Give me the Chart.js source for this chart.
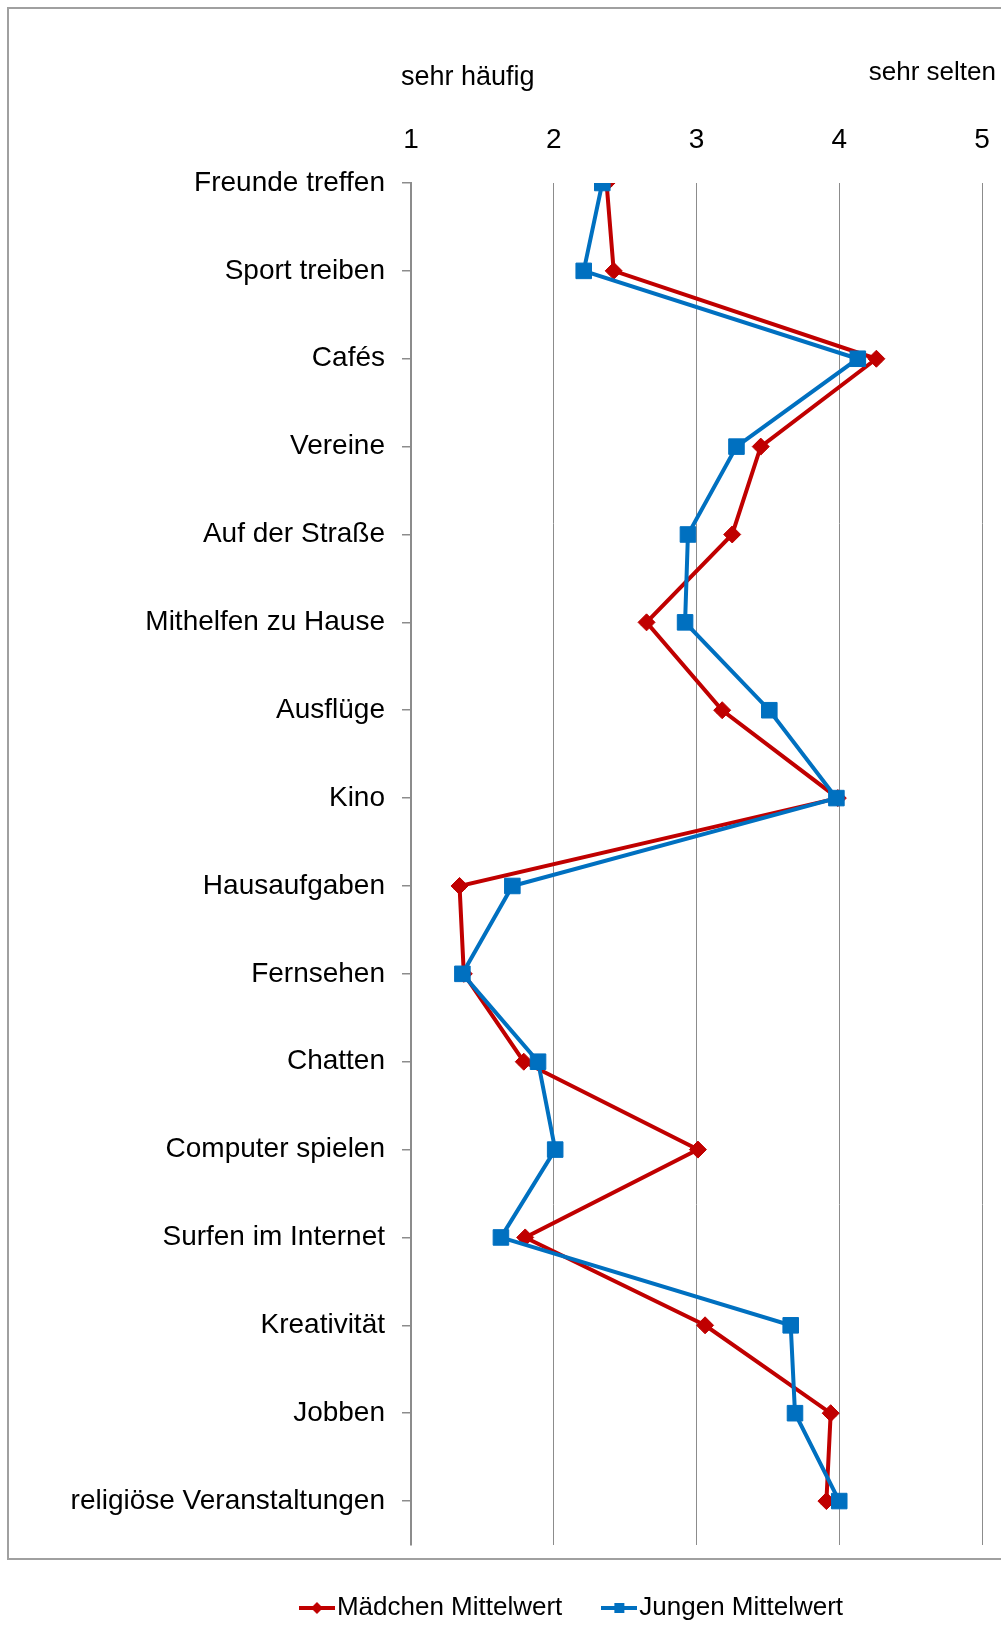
<!DOCTYPE html>
<html>
<head>
<meta charset="utf-8">
<script src="https://cdn.jsdelivr.net/npm/chart.js@4.4.0/dist/chart.umd.min.js"></script>
<style>
  html, body { margin: 0; padding: 0; background: #fff; }
  #wrap { position: relative; width: 1001px; height: 1626px; }
</style>
</head>
<body>
<div id="wrap"><canvas id="c"></canvas></div>
<script>
const categories = ['Freunde treffen', 'Sport treiben', 'Cafés', 'Vereine', 'Auf der Straße',
  'Mithelfen zu Hause', 'Ausflüge', 'Kino', 'Hausaufgaben', 'Fernsehen', 'Chatten',
  'Computer spielen', 'Surfen im Internet', 'Kreativität', 'Jobben', 'religiöse Veranstaltungen'];
const maedchen = [2.37, 2.42, 4.26, 3.45, 3.25, 2.65, 3.18, 3.99, 1.34, 1.37, 1.79, 3.01, 1.80, 3.06, 3.94, 3.91];
const jungen   = [2.34, 2.21, 4.13, 3.28, 2.94, 2.92, 3.51, 3.98, 1.71, 1.36, 1.89, 2.01, 1.63, 3.66, 3.69, 4.00];
const xTicks = [1, 2, 3, 4, 5];
const seriesNames = ['Mädchen Mittelwert', 'Jungen Mittelwert'];
const topLeftText = 'sehr häufig';
const topRightText = 'sehr selten';

const RED = '#C00000', BLUE = '#0070C0', GREEN = '#9BBB59', GRID = '#8c8c8c';
const FONT = "'Liberation Sans', Arial, sans-serif";

function pts(arr) { return arr.map((v, i) => ({ x: v, y: i + 1 })); }

function legendIcon(color, kind) {
  const c = document.createElement('canvas');
  c.width = 36; c.height = 18;
  const g = c.getContext('2d');
  g.strokeStyle = color; g.lineWidth = 4;
  g.beginPath(); g.moveTo(0, 9); g.lineTo(36, 9); g.stroke();
  g.fillStyle = color;
  g.beginPath();
  if (kind === 'diamond') {
    g.moveTo(18, 3); g.lineTo(24, 9); g.lineTo(18, 15); g.lineTo(12, 9); g.closePath();
  } else {
    g.rect(13, 4, 10, 10);
  }
  g.fill();
  return c;
}
const redIcon = legendIcon(RED, 'diamond');
const blueIcon = legendIcon(BLUE, 'square');

const decor = {
  id: 'decor',
  afterLayout(chart) {
    const lg = chart.legend;
    if (lg) { lg.left = 171; lg.width = lg.right - lg.left; }
  },
  beforeDraw(chart) {
    const ctx = chart.ctx;
    ctx.save();
    ctx.fillStyle = '#fff';
    ctx.fillRect(0, 0, chart.width, chart.height);
    ctx.strokeStyle = '#a0a0a0';
    ctx.lineWidth = 2;
    ctx.strokeRect(8, 8, 1100, 1551);
    ctx.restore();
  },
  afterDraw(chart) {
    const ctx = chart.ctx;
    ctx.save();
    ctx.fillStyle = '#000';
    ctx.textBaseline = 'middle';
    ctx.font = '27px ' + FONT;
    ctx.textAlign = 'left';
    ctx.fillText(topLeftText, 401, 78);
    ctx.font = '26px ' + FONT;
    ctx.textAlign = 'right';
    ctx.fillText(topRightText, 996, 73);
    ctx.restore();
  }
};

new Chart(document.getElementById('c'), {
  type: 'line',
  data: {
    datasets: [
      {
        label: seriesNames[0], data: pts(maedchen), order: 1,
        borderColor: RED, backgroundColor: RED, borderWidth: 4,
        pointStyle: 'rectRot', pointRadius: 8.5, pointBorderWidth: 1,
        pointBackgroundColor: RED, pointBorderColor: RED, tension: 0
      },
      {
        label: seriesNames[1], data: pts(jungen), order: 0,
        borderColor: BLUE, backgroundColor: BLUE, borderWidth: 4,
        pointStyle: 'rect', pointRadius: 11, pointBorderWidth: 1,
        pointBackgroundColor: BLUE, pointBorderColor: BLUE, tension: 0
      },
      {
        label: '', data: pts(maedchen), order: 2, showLine: false,
        pointStyle: 'triangle', pointRadius: 7, pointBorderWidth: 0,
        pointBackgroundColor: GREEN, pointBorderColor: GREEN
      }
    ]
  },
  options: {
    responsive: true,
    maintainAspectRatio: false,
    animation: false,
    layout: { padding: { left: 0, right: 19, top: 0, bottom: 0 } },
    plugins: {
      tooltip: { enabled: false },
      legend: {
        position: 'bottom',
        maxHeight: 81,
        labels: {
          usePointStyle: true,
          pointStyleWidth: 14,
          padding: 50,
          color: '#000',
          font: { family: FONT, size: 26 },
          generateLabels() {
            return [
              { text: seriesNames[0], pointStyle: redIcon, fillStyle: RED, strokeStyle: RED, lineWidth: 0, hidden: false, datasetIndex: 0, fontColor: '#000' },
              { text: seriesNames[1], pointStyle: blueIcon, fillStyle: BLUE, strokeStyle: BLUE, lineWidth: 0, hidden: false, datasetIndex: 1, fontColor: '#000' }
            ];
          }
        }
      }
    },
    scales: {
      x: {
        type: 'linear', position: 'top', min: 1, max: 5,
        afterBuildTicks(scale) { scale.ticks = xTicks.map(v => ({ value: v })); },
        afterFit(scale) { scale.height = 183; scale.paddingLeft = 0; scale.paddingRight = 0; },
        ticks: { color: '#000', font: { family: FONT, size: 28 }, padding: 26, maxRotation: 0 },
        grid: { color: GRID, lineWidth: 1, drawTicks: false },
        border: { display: false }
      },
      y: {
        type: 'linear', reverse: true, min: 1, max: 16.5,
        afterBuildTicks(scale) { scale.ticks = categories.map((c, i) => ({ value: i + 1 })); },
        afterFit(scale) { scale.width = 411; scale.paddingTop = 0; scale.paddingBottom = 0; },
        ticks: {
          color: '#000', font: { family: FONT, size: 28 }, padding: 17, autoSkip: false,
          callback: (v) => categories[Math.round(v) - 1]
        },
        grid: { drawOnChartArea: false, drawTicks: true, tickLength: 9, color: GRID, lineWidth: 1.5 },
        border: { display: true, color: GRID, width: 2 }
      }
    }
  },
  plugins: [decor]
});
</script>
</body>
</html>
